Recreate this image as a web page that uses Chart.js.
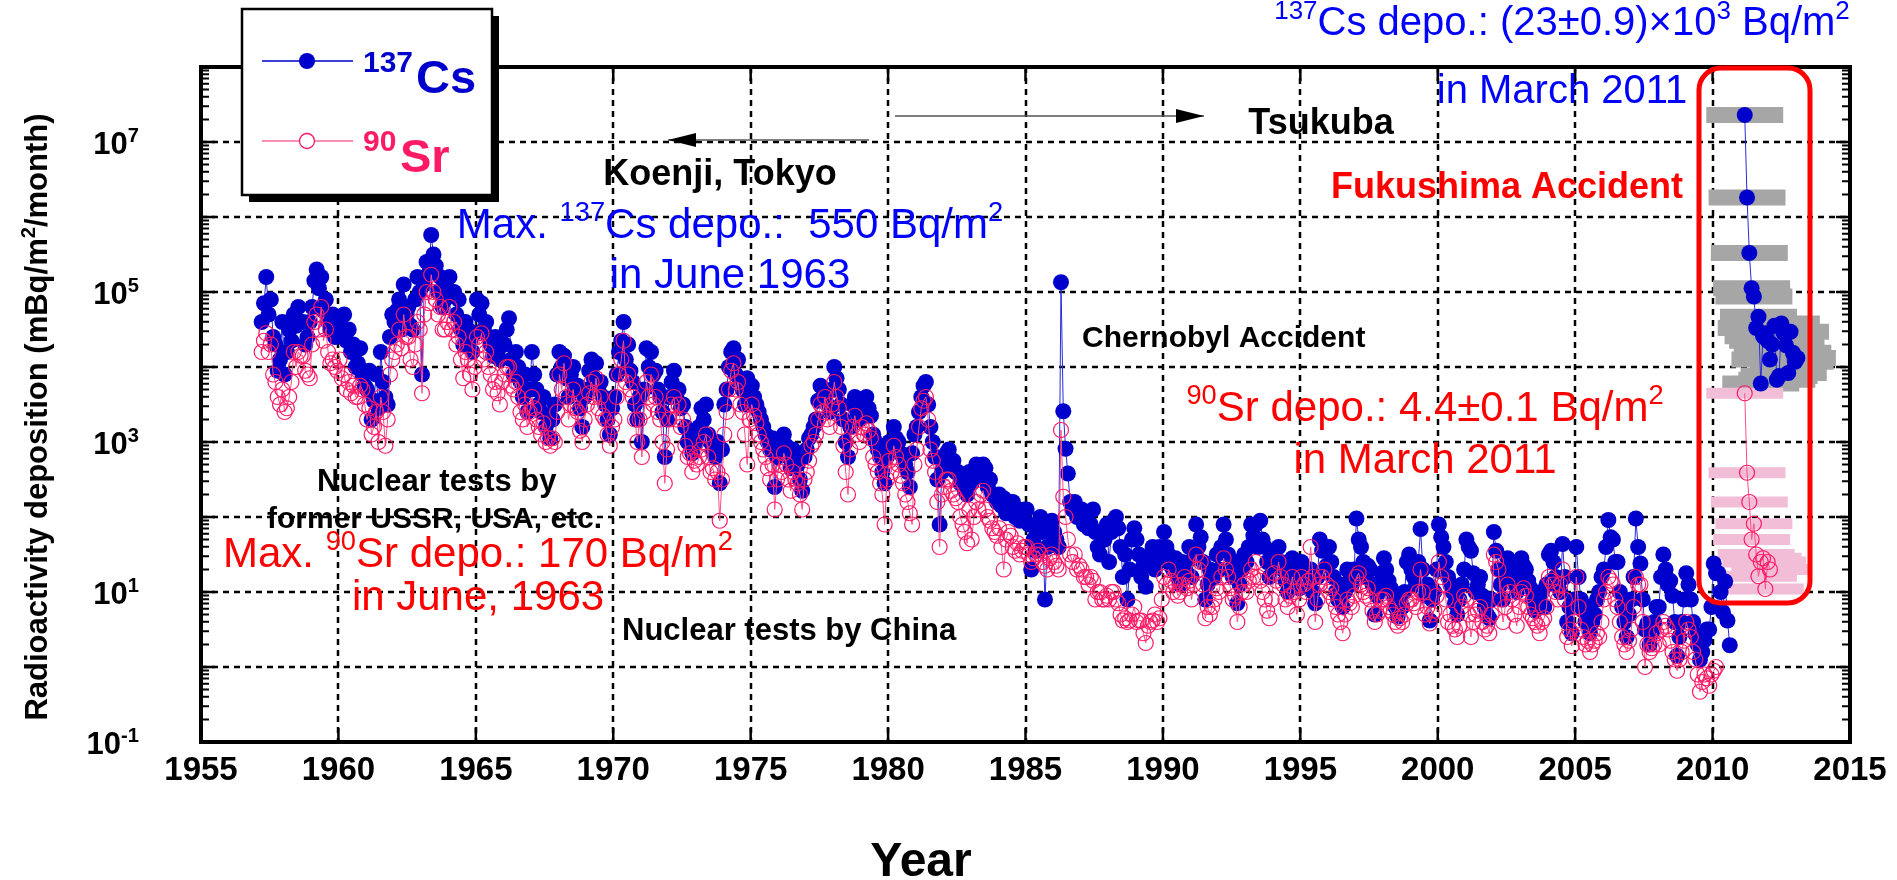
<!DOCTYPE html>
<html>
<head>
<meta charset="utf-8">
<script src="https://cdn.jsdelivr.net/npm/chart.js@4.4.1/dist/chart.umd.min.js"></script>
<style>
html, body { margin: 0; padding: 0; background: #fff; }
#chart { display: block; }
</style>
</head>
<body>
<canvas id="chart" width="1897" height="880"></canvas>
<script>
// Monthly deposition, as log10(mBq/m2/month), Jan..Dec each row.
const firstYear = 1957;
const csLog = [
  null, null, 4.6, 4.85, 5.2, 4.7, 4.9, 4.4, 4.3, 3.95, 4.1, 4.6,      // 1957
  3.9, 4.2, 4.5, 4.35, 4.7, 4.55, 4.8, 4.6, 4.6, 4.3, 4.4, 4.6,        // 1958
  4.8, 5.15, 5.3, 5.05, 5.2, 4.75, 4.9, 4.6, 4.5, 4.7, 4.4, 4.55,      // 1959
  4.6, 4.45, 4.7, 4.35, 4.5, 4.2, 4.3, 4.0, 4.05, 4.25, 3.9, 3.75,     // 1960
  3.7, 3.95, 3.3, 3.55, 3.9, 3.45, 4.2, 3.8, 3.6, 3.5, 4.4, 4.7,       // 1961
  4.6, 4.75, 4.9, 4.5, 5.1, 4.7, 4.8, 4.55, 4.5, 4.9, 5.2, 5.0,        // 1962
  3.9, 5.1, 5.4, 5.25, 5.76, 5.5, 5.35, 5.0, 5.2, 4.8, 4.9, 5.05,      // 1963
  5.2, 4.95, 5.0, 4.7, 4.9, 4.5, 4.3, 4.6, 4.5, 4.35, 4.2, 4.45,       // 1964
  4.9, 4.7, 4.85, 4.5, 4.6, 4.4, 4.3, 4.15, 4.4, 4.2, 4.1, 4.3,        // 1965
  4.3, 4.5, 4.65, 4.1, 3.9, 4.2, 4.0, 3.8, 3.6, 3.9, 3.4, 3.7,         // 1966
  4.2, 3.9, 3.7, 3.5, 3.4, 3.6, 3.2, 3.35, 3.05, 3.3, 3.5, 3.9,        // 1967
  4.2, 4.0, 4.15, 3.85, 3.6, 3.9, 4.0, 3.7, 3.75, 3.45, 3.2, 3.6,      // 1968
  3.7, 3.95, 4.1, 3.85, 4.05, 3.7, 3.8, 3.6, 3.5, 3.3, 3.1, 3.45,      // 1969
  3.6, 3.9, 4.2, 4.35, 4.6, 4.1, 4.3, 3.95, 3.8, 3.5, 3.3, 3.6,        // 1970
  3.0, 3.7, 4.25, 4.0, 4.2, 3.9, 3.95, 3.7, 3.6, 3.4, 2.8, 3.3,        // 1971
  3.6, 3.8, 3.95, 3.6, 3.7, 3.45, 3.5, 3.2, 3.0, 3.1, 2.85, 3.05,      // 1972
  3.0, 3.2, 3.45, 3.3, 3.5, 3.1, 3.0, 2.9, 2.8, 3.0, 2.45, 2.9,        // 1973
  3.5, 3.7, 4.0, 4.2, 4.25, 3.9, 4.1, 3.8, 3.7, 3.5, 3.85, 3.6,        // 1974
  3.75, 3.6, 3.5, 3.4, 3.3, 3.2, 3.1, 3.0, 2.9, 3.05, 2.4, 2.8,        // 1975
  3.0, 2.85, 3.1, 2.95, 2.8, 2.65, 2.9, 2.75, 2.7, 2.5, 2.35, 2.8,     // 1976
  2.9, 3.05, 3.1, 3.2, 3.3, 3.55, 3.75, 3.6, 3.65, 3.5, 3.4, 3.7,      // 1977
  4.0, 3.85, 3.7, 3.5, 3.3, 3.0, 2.8, 3.2, 3.5, 3.6, 3.4, 3.3,         // 1978
  3.5, 3.4, 3.6, 3.45, 3.35, 3.1, 3.0, 2.9, 2.8, 2.6, 2.45, 2.8,       // 1979
  3.0, 2.9, 3.2, 3.05, 3.0, 2.85, 2.8, 2.7, 2.6, 2.4, 2.85, 3.1,       // 1980
  3.2, 3.4, 3.6, 3.75, 3.8, 3.5, 3.2, 3.0, 2.8, 2.5, 1.9, 2.6,         // 1981
  2.7, 2.85, 2.9, 2.7, 2.75, 2.6, 2.6, 2.45, 2.5, 2.35, 2.3, 2.6,      // 1982
  2.45, 2.6, 2.7, 2.55, 2.6, 2.7, 2.65, 2.4, 2.5, 2.3, 2.3, 2.2,       // 1983
  2.3, 2.15, 2.25, 2.05, 2.1, 2.2, 2.2, 2.0, 2.1, 1.95, 2.0, 2.1,      // 1984
  2.1, 1.9, 1.3, 1.7, 1.55, 1.85, 2.0, 1.8, 0.9, 1.6, 1.8, 1.95,       // 1985
  1.8, 1.7, 1.6, 5.13, 3.41, 2.91, 2.58, 2.2, 2.1, 2.2, 2.0, 2.1,      // 1986
  2.1, 1.9, 2.0, 1.85, 1.9, 2.1, 1.8, 1.6, 1.5, 1.75, 1.7, 1.9,        // 1987
  1.4, 1.8, 1.95, 2.0, 1.85, 1.6, 1.2, 1.5, 0.9, 1.3, 1.7, 1.85,       // 1988
  1.7, 1.5, 1.2, 1.35, 1.07, 1.4, 1.5, 1.6, 1.3, 1.45, 1.6, 1.5,       // 1989
  1.8, 1.6, 1.5, 1.35, 1.3, 1.45, 1.2, 1.1, 1.4, 1.3, 1.25, 1.6,       // 1990
  1.2, 1.45, 1.9, 1.6, 1.73, 1.4, 0.9, 1.1, 1.3, 1.2, 1.2, 1.5,        // 1991
  1.3, 1.6, 1.9, 1.7, 1.5, 1.3, 1.2, 1.4, 0.85, 1.1, 1.3, 1.5,         // 1992
  1.4, 1.6, 1.9, 1.75, 1.9, 1.6, 1.95, 1.7, 1.6, 1.4, 1.2, 1.5,        // 1993
  1.5, 1.35, 1.6, 1.4, 1.3, 1.15, 1.0, 1.2, 1.45, 1.3, 1.2, 1.05,      // 1994
  1.4, 1.25, 1.1, 1.3, 1.3, 1.0, 0.85, 1.2, 1.7, 1.55, 1.6, 1.35,      // 1995
  1.6, 1.4, 1.2, 1.0, 0.9, 1.1, 0.8, 1.0, 1.3, 1.15, 1.1, 1.3,         // 1996
  1.98, 1.7, 1.6, 1.4, 1.2, 1.35, 1.3, 1.1, 0.7, 0.95, 1.1, 1.25,      // 1997
  1.45, 1.3, 1.15, 1.05, 0.95, 0.8, 0.67, 0.9, 0.8, 1.0, 1.4, 1.5,     // 1998
  1.3, 1.2, 1.1, 1.4, 1.84, 1.3, 0.95, 1.1, 0.62, 0.9, 1.0, 1.3,       // 1999
  1.9, 1.73, 1.6, 1.4, 1.2, 1.1, 1.0, 0.85, 0.7, 0.9, 1.1, 1.3,        // 2000
  1.7, 1.6, 1.55, 1.25, 1.0, 1.1, 1.2, 0.95, 0.8, 0.7, 0.65, 0.9,      // 2001
  1.8, 1.55, 1.3, 1.1, 0.9, 1.2, 1.45, 1.35, 1.25, 1.1, 1.0, 1.2,      // 2002
  1.45, 1.35, 1.3, 1.15, 1.05, 0.9, 0.75, 0.85, 0.9, 1.0, 0.8, 1.1,    // 2003
  1.5, 1.55, 1.4, 1.2, 1.1, 1.0, 1.64, 1.2, 0.6, 0.8, 0.45, 0.9,       // 2004
  1.6, 1.2, 0.9, 0.75, 0.6, 0.8, 0.45, 0.6, 0.7, 0.9, 1.0, 1.2,        // 2005
  1.3, 1.6, 1.96, 1.73, 1.7, 1.4, 1.4, 1.0, 0.8, 0.6, 0.4, 0.7,        // 2006
  0.9, 1.2, 1.98, 1.6, 1.38, 0.9, 0.5, 0.58, 0.3, 0.45, 0.6, 0.8,      // 2007
  0.8, 1.2, 1.5, 1.3, 1.1, 1.15, 0.95, 0.6, 0.15, 0.4, 0.6, 0.9,       // 2008
  1.25, 1.1, 0.9, 0.6, 0.44, 0.3, 0.1, 0.2, 0.36, 0.5, 0.5, 0.8,       // 2009
  1.38, 1.25, 1.25, 1.0, 0.73, 1.14, 0.62, 0.29                        // 2010
];
const srLog = [
  null, null, 4.2, 4.35, 4.45, 4.2, 4.3, 3.9, 3.8, 3.6, 3.5, 3.7,      // 1957
  3.4, 3.45, 3.6, 3.8, 4.2, 4.0, 4.2, 4.15, 4.15, 3.95, 3.9, 3.85,     // 1958
  4.3, 4.6, 4.7, 4.5, 4.8, 4.35, 4.5, 4.2, 4.05, 4.1, 4.0, 3.95,       // 1959
  4.1, 3.85, 3.9, 3.7, 3.8, 3.65, 3.75, 3.6, 3.6, 3.75, 3.7, 3.5,      // 1960
  3.3, 3.45, 3.1, 3.2, 3.4, 3.0, 3.6, 3.4, 2.95, 3.3, 3.9, 4.1,        // 1961
  4.2, 4.3, 4.5, 4.25, 4.7, 4.4, 4.4, 4.1, 4.0, 4.3, 4.6, 4.5,         // 1962
  3.65, 4.7, 5.0, 4.85, 5.23, 5.0, 4.9, 4.7, 4.8, 4.5, 4.5, 4.6,       // 1963
  4.8, 4.5, 4.6, 4.3, 4.4, 4.1, 3.85, 4.2, 4.1, 3.9, 3.7, 4.0,         // 1964
  4.4, 4.3, 4.45, 4.1, 4.2, 4.0, 3.9, 3.7, 3.8, 3.65, 3.5, 3.8,        // 1965
  3.9, 4.0, 4.0, 3.75, 3.7, 3.8, 3.6, 3.4, 3.3, 3.5, 3.2, 3.4,         // 1966
  3.6, 3.45, 3.3, 3.2, 3.1, 3.25, 3.0, 3.05, 2.95, 3.05, 3.0, 3.4,     // 1967
  3.9, 3.7, 4.05, 3.6, 3.3, 3.5, 3.7, 3.45, 3.4, 3.15, 3.0, 3.3,       // 1968
  3.5, 3.65, 3.8, 3.6, 3.85, 3.45, 3.6, 3.35, 3.3, 3.1, 2.95, 3.2,     // 1969
  3.3, 3.6, 3.9, 4.1, 4.35, 3.8, 3.9, 3.7, 3.6, 3.3, 3.0, 3.3,         // 1970
  2.8, 3.4, 3.8, 3.6, 3.9, 3.5, 3.6, 3.4, 3.3, 3.0, 2.45, 2.9,         // 1971
  3.3, 3.5, 3.6, 3.3, 3.5, 3.2, 3.3, 2.95, 2.8, 2.85, 2.6, 2.75,       // 1972
  2.7, 2.8, 2.9, 3.0, 3.1, 2.8, 2.6, 2.65, 2.5, 2.6, 1.95, 2.5,        // 1973
  3.1, 3.4, 3.7, 3.95, 4.05, 3.7, 3.8, 3.5, 3.4, 3.1, 2.7, 3.3,        // 1974
  3.5, 3.35, 3.25, 3.1, 3.0, 2.9, 2.8, 2.65, 2.5, 2.7, 2.1, 2.5,       // 1975
  2.7, 2.6, 2.85, 2.7, 2.5, 2.35, 2.6, 2.5, 2.45, 2.3, 2.1, 2.5,       // 1976
  2.6, 2.75, 2.95, 3.0, 3.1, 3.3, 3.5, 3.4, 3.6, 3.3, 3.2, 3.5,        // 1977
  3.8, 3.6, 3.45, 3.2, 2.95, 2.6, 2.3, 2.9, 3.2, 3.35, 3.1, 3.0,       // 1978
  3.2, 3.1, 3.25, 3.15, 3.05, 2.8, 2.7, 2.6, 2.45, 2.3, 1.9, 2.5,      // 1979
  2.75, 2.6, 2.95, 2.8, 2.7, 2.55, 2.45, 2.3, 2.2, 2.05, 1.9, 2.7,     // 1980
  2.9, 3.2, 3.45, 3.55, 3.6, 3.3, 2.9, 2.75, 2.6, 2.2, 1.6, 2.3,       // 1981
  2.4, 2.5, 2.5, 2.35, 2.3, 2.25, 2.2, 2.0, 1.9, 1.8, 1.65, 2.1,       // 1982
  1.7, 2.0, 2.2, 2.1, 2.3, 2.35, 2.1, 2.0, 1.95, 1.85, 1.8, 1.75,      // 1983
  1.85, 1.6, 1.3, 1.7, 1.8, 1.75, 1.6, 1.55, 1.65, 1.5, 1.55, 1.6,     // 1984
  1.6, 1.5, 1.4, 1.45, 1.5, 1.55, 1.5, 1.4, 1.35, 1.3, 1.45, 1.5,      // 1985
  1.4, 1.35, 1.3, 3.16, 2.27, 2.0, 1.7, 1.5, 1.4, 1.5, 1.3, 1.35,      // 1986
  1.3, 1.2, 1.2, 1.1, 1.2, 1.15, 0.9, 1.0, 1.0, 0.9, 0.9, 0.95,        // 1987
  0.9, 1.0, 1.0, 0.9, 0.85, 0.7, 0.62, 0.65, 0.6, 0.62, 0.7, 0.8,      // 1988
  0.6, 0.62, 0.62, 0.45, 0.32, 0.55, 0.6, 0.62, 0.7, 0.6, 0.65, 0.9,   // 1989
  1.2, 1.1, 1.3, 1.15, 1.0, 1.1, 0.95, 1.0, 1.1, 1.2, 1.05, 1.15,      // 1990
  0.9, 1.1, 1.5, 1.3, 1.4, 1.1, 0.65, 0.8, 0.7, 0.8, 0.9, 1.05,        // 1991
  1.0, 1.2, 1.45, 1.3, 1.2, 1.05, 0.9, 0.95, 0.6, 0.8, 1.0, 1.1,       // 1992
  1.0, 1.15, 1.3, 1.2, 1.4, 1.2, 1.15, 1.0, 0.9, 0.75, 0.65, 0.9,      // 1993
  1.25, 1.15, 1.4, 1.2, 1.1, 0.9, 0.8, 0.95, 1.2, 1.0, 0.7, 0.9,       // 1994
  1.2, 1.1, 1.0, 1.15, 1.6, 1.2, 0.6, 0.9, 1.1, 1.2, 1.3, 1.1,         // 1995
  1.0, 1.05, 0.9, 0.8, 0.7, 0.6, 0.45, 0.7, 0.9, 0.85, 0.8, 0.95,      // 1996
  1.2, 1.25, 1.1, 1.0, 0.95, 1.05, 0.9, 0.75, 0.6, 0.7, 0.75, 0.9,     // 1997
  0.9, 0.95, 0.8, 0.75, 0.7, 0.6, 0.55, 0.65, 0.6, 0.7, 0.85, 0.9,     // 1998
  0.9, 0.85, 0.8, 1.0, 1.3, 1.0, 0.7, 0.8, 0.58, 0.7, 0.75, 0.95,      // 1999
  1.4, 1.2, 1.1, 0.9, 0.6, 0.7, 0.55, 0.5, 0.4, 0.55, 0.8, 0.95,       // 2000
  0.9, 0.7, 0.4, 0.6, 0.7, 0.75, 0.8, 0.6, 0.5, 0.55, 0.45, 0.7,       // 2001
  1.5, 1.4, 1.3, 0.9, 0.6, 0.8, 1.1, 1.0, 0.9, 0.7, 0.55, 0.8,         // 2002
  1.0, 1.05, 0.95, 0.8, 0.7, 0.65, 0.6, 0.55, 0.45, 0.6, 0.65, 0.8,    // 2003
  1.2, 1.15, 1.1, 1.0, 0.9, 1.1, 1.3, 0.9, 0.4, 0.5, 0.28, 0.6,        // 2004
  1.2, 0.8, 0.5, 0.4, 0.3, 0.35, 0.2, 0.3, 0.35, 0.45, 0.4, 0.6,       // 2005
  0.9, 1.0, 1.2, 1.15, 1.1, 0.9, 0.8, 0.6, 0.4, 0.3, 0.2, 0.35,        // 2006
  0.5, 0.8, 1.2, 1.1, 1.1, 0.6, 0.0, 0.3, 0.2, 0.25, 0.3, 0.45,        // 2007
  0.3, 0.5, 0.6, 0.55, 0.5, 0.35, 0.2, 0.1, -0.05, 0.1, 0.2, 0.35,     // 2008
  0.6, 0.5, 0.4, 0.2, 0.1, -0.1, -0.33, -0.2, -0.1, -0.15, -0.25, -0.1,// 2009
  -0.05, 0.0                                                          // 2010
];

// Fukushima period, one reading a month from March 2011
const fukuFirst = 2011.17;
const fukuCsLog = [7.36, 6.26, 5.52, 5.05, 4.94, 4.52, 4.67, 3.78, 4.41, 4.45, 4.35, 4.1,
                   4.3, 4.55, 3.83, 3.88, 4.58, 4.45, 4.29, 3.92, 4.47, 4.19, 4.07, 4.12];
const fukuSrLog = [3.65, 2.59, 2.2, 1.7, 1.91, 1.5, 1.21, 1.4, 1.45, 1.04, 1.4, 1.3];
const fukuSpan = 1.4; // half length (years) of the shaded band behind each reading

const xTicks = [1955, 1960, 1965, 1970, 1975, 1980, 1985, 1990, 1995, 2000, 2005, 2010, 2015];
const yLabelPowers = [-1, 1, 3, 5, 7];
const yMinPow = -1, yMaxPow = 8;

const FAM = '"Liberation Sans", Arial, Helvetica, sans-serif';
const CS_BLUE = '#0000CC', SR_PINK = '#FF1A66';

const toPoints = (arr, start, step) =>
  arr.map((v, i) => ({x: start + i * step, y: v === null ? null : Math.pow(10, v)}));
const csPts = toPoints(csLog, firstYear + 1 / 24, 1 / 12);
const srPts = toPoints(srLog, firstYear + 1 / 24, 1 / 12);
const fukuCsPts = toPoints(fukuCsLog, fukuFirst, 1 / 12);
const fukuSrPts = toPoints(fukuSrLog, fukuFirst, 1 / 12);

function bands(pts) {
  const out = [];
  pts.forEach(p => {
    out.push({x: p.x - fukuSpan, y: p.y}, {x: p.x + fukuSpan, y: p.y}, {x: p.x, y: null});
  });
  return out;
}

function font(size, bold) { return (bold ? 'bold ' : '') + size + 'px ' + FAM; }

// text with superscripts: parts = [[text, isSup], ...]
function rich(ctx, parts, x, y, size, bold, color, align) {
  let w = 0;
  parts.forEach(p => { ctx.font = font(p[1] ? size * 0.65 : size, bold); w += ctx.measureText(p[0]).width; });
  let cx = align === 'center' ? x - w / 2 : (align === 'right' ? x - w : x);
  ctx.fillStyle = color;
  ctx.textAlign = 'left';
  ctx.textBaseline = 'alphabetic';
  parts.forEach(p => {
    ctx.font = font(p[1] ? size * 0.65 : size, bold);
    ctx.fillText(p[0], cx, p[1] ? y - size * 0.4 : y);
    cx += ctx.measureText(p[0]).width;
  });
}

const notes = [
  {parts: [['Max. ', 0], ['137', 1], ['Cs depo.:  550 Bq/m', 0], ['2', 1]], x: 730, y: 238, size: 42, color: '#0000FF'},
  {parts: [['in June 1963', 0]], x: 730, y: 288, size: 42, color: '#0000FF'},
  {parts: [['Max. ', 0], ['90', 1], ['Sr depo.: 170 Bq/m', 0], ['2', 1]], x: 478, y: 567, size: 42, color: '#FF0000'},
  {parts: [['in June, 1963', 0]], x: 478, y: 610, size: 42, color: '#FF0000'},
  {parts: [['90', 1], ['Sr depo.: 4.4\u00B10.1 Bq/m', 0], ['2', 1]], x: 1425, y: 421, size: 42, color: '#FF0000'},
  {parts: [['in March 2011', 0]], x: 1425, y: 473, size: 42, color: '#FF0000'},
  {parts: [['137', 1], ['Cs depo.: (23\u00B10.9)\u00D710', 0], ['3', 1], [' Bq/m', 0], ['2', 1]], x: 1562, y: 35, size: 40, color: '#0000FF'},
  {parts: [['in March 2011', 0]], x: 1562, y: 103, size: 40, color: '#0000FF'},
  {parts: [['Koenji, Tokyo', 0]], x: 720, y: 185, size: 36, bold: true, color: '#000'},
  {parts: [['Tsukuba', 0]], x: 1321, y: 134, size: 36, bold: true, color: '#000'},
  {parts: [['Fukushima Accident', 0]], x: 1331, y: 198, size: 36, bold: true, color: '#FF0000', align: 'left'},
  {parts: [['Chernobyl Accident', 0]], x: 1082, y: 347, size: 30, bold: true, color: '#000', align: 'left'},
  {parts: [['Nuclear tests by', 0]], x: 317, y: 491, size: 31, bold: true, color: '#000', align: 'left'},
  {parts: [['former USSR, USA, etc.', 0]], x: 267, y: 528, size: 30, bold: true, color: '#000', align: 'left'},
  {parts: [['Nuclear tests by China', 0]], x: 622, y: 640, size: 31, bold: true, color: '#000', align: 'left'}
];

function arrow(ctx, x1, x2, y) {
  ctx.strokeStyle = '#555';
  ctx.lineWidth = 1.5;
  ctx.setLineDash([]);
  ctx.beginPath(); ctx.moveTo(x1, y); ctx.lineTo(x2, y); ctx.stroke();
  const d = x2 > x1 ? 1 : -1;
  ctx.fillStyle = '#000';
  ctx.beginPath();
  ctx.moveTo(x2, y);
  ctx.lineTo(x2 - d * 28, y - 7);
  ctx.lineTo(x2 - d * 28, y + 7);
  ctx.closePath();
  ctx.fill();
}

const decor = {
  id: 'decor',
  beforeDatasetsDraw(chart) {
    const {ctx, chartArea: a, scales: {x, y}} = chart;
    ctx.save();
    ctx.strokeStyle = '#000';
    ctx.lineWidth = 2.5;
    ctx.setLineDash([6, 5]);
    xTicks.slice(1, -1).forEach(t => {
      const px = Math.round(x.getPixelForValue(t));
      ctx.beginPath(); ctx.moveTo(px, a.top); ctx.lineTo(px, a.bottom); ctx.stroke();
    });
    for (let p = yMinPow + 1; p < yMaxPow; p++) {
      const py = Math.round(y.getPixelForValue(Math.pow(10, p)));
      ctx.beginPath(); ctx.moveTo(a.left, py); ctx.lineTo(a.right, py); ctx.stroke();
    }
    ctx.restore();
  },
  afterDraw(chart) {
    const {ctx, chartArea: a, scales: {x, y}} = chart;
    ctx.save();
    ctx.setLineDash([]);
    ctx.strokeStyle = '#000';

    // tick marks
    ctx.lineWidth = 2.5;
    xTicks.forEach(t => {
      const px = x.getPixelForValue(t);
      ctx.beginPath();
      ctx.moveTo(px, a.bottom); ctx.lineTo(px, a.bottom - 14);
      ctx.moveTo(px, a.top); ctx.lineTo(px, a.top + 14);
      ctx.stroke();
    });
    for (let p = yMinPow; p < yMaxPow; p++) {
      for (let m = 1; m <= 9; m++) {
        const py = y.getPixelForValue(m * Math.pow(10, p));
        const len = m === 1 ? 14 : 8;
        ctx.lineWidth = m === 1 ? 2.5 : 2;
        ctx.beginPath();
        ctx.moveTo(a.left, py); ctx.lineTo(a.left + len, py);
        ctx.moveTo(a.right, py); ctx.lineTo(a.right - len, py);
        ctx.stroke();
      }
    }

    // frame
    ctx.lineWidth = 4;
    ctx.strokeRect(a.left, a.top, a.right - a.left, a.bottom - a.top);

    // tick labels
    ctx.fillStyle = '#000';
    ctx.font = font(33, true);
    ctx.textAlign = 'center';
    ctx.textBaseline = 'alphabetic';
    xTicks.forEach(t => ctx.fillText(String(t), x.getPixelForValue(t), a.bottom + 38));
    yLabelPowers.forEach(p => {
      const py = y.getPixelForValue(Math.pow(10, p));
      rich(ctx, [['10', 0], [String(p), 1]], a.left - 62, py + 12, 31, true, '#000', 'right');
    });

    // axis titles
    rich(ctx, [['Year', 0]], 921, 876, 48, true, '#000', 'center');
    ctx.save();
    ctx.translate(47, 417);
    ctx.rotate(-Math.PI / 2);
    rich(ctx, [['Radioactivity deposition (mBq/m', 0], ['2', 1], ['/month)', 0]], 0, 0, 31, true, '#000', 'center');
    ctx.restore();

    // arrows
    arrow(ctx, 869, 668, 140);
    arrow(ctx, 895, 1204, 116);

    // notes
    notes.forEach(n => rich(ctx, n.parts, n.x, n.y, n.size, !!n.bold, n.color, n.align || 'center'));

    // Fukushima frame
    ctx.strokeStyle = '#FF0000';
    ctx.lineWidth = 5;
    const bx = 1699, by = 68, bw = 111, bh = 535, r = 22;
    ctx.beginPath();
    ctx.moveTo(bx + r, by);
    ctx.arcTo(bx + bw, by, bx + bw, by + bh, r);
    ctx.arcTo(bx + bw, by + bh, bx, by + bh, r);
    ctx.arcTo(bx, by + bh, bx, by, r);
    ctx.arcTo(bx, by, bx + bw, by, r);
    ctx.closePath();
    ctx.stroke();

    // legend box
    ctx.fillStyle = '#000';
    ctx.fillRect(249, 16, 250, 186);
    ctx.fillStyle = '#fff';
    ctx.fillRect(242, 9, 250, 186);
    ctx.strokeStyle = '#000';
    ctx.lineWidth = 2.5;
    ctx.strokeRect(242, 9, 250, 186);

    ctx.lineWidth = 1.5;
    ctx.strokeStyle = CS_BLUE;
    ctx.beginPath(); ctx.moveTo(262, 61); ctx.lineTo(353, 61); ctx.stroke();
    ctx.fillStyle = CS_BLUE;
    ctx.beginPath(); ctx.arc(307, 61, 8, 0, Math.PI * 2); ctx.fill();
    ctx.strokeStyle = '#FF6699';
    ctx.beginPath(); ctx.moveTo(262, 141); ctx.lineTo(353, 141); ctx.stroke();
    ctx.fillStyle = '#fff';
    ctx.strokeStyle = SR_PINK;
    ctx.lineWidth = 1.3;
    ctx.beginPath(); ctx.arc(307, 141, 7.5, 0, Math.PI * 2); ctx.fill(); ctx.stroke();
    rich(ctx, [['137', 0]], 363, 72, 30, true, CS_BLUE, 'left');
    rich(ctx, [['Cs', 0]], 416, 93, 47, true, CS_BLUE, 'left');
    rich(ctx, [['90', 0]], 363, 151, 30, true, SR_PINK, 'left');
    rich(ctx, [['Sr', 0]], 400, 172, 47, true, SR_PINK, 'left');
    ctx.restore();
  }
};

const csStyle = {
  borderColor: '#2B2BD9', borderWidth: 1,
  pointRadius: 8, pointBackgroundColor: CS_BLUE, pointBorderColor: CS_BLUE, pointBorderWidth: 0,
  order: 1
};
const srStyle = {
  borderColor: '#FF4D88', borderWidth: 1,
  pointRadius: 7.5, pointBackgroundColor: 'rgba(255,255,255,0)', pointBorderColor: SR_PINK, pointBorderWidth: 1.2,
  order: 0
};

new Chart(document.getElementById('chart'), {
  type: 'line',
  data: {
    datasets: [
      Object.assign({label: '90Sr', data: srPts}, srStyle),
      Object.assign({label: '90Sr (2011-)', data: fukuSrPts}, srStyle),
      Object.assign({label: '137Cs', data: csPts}, csStyle),
      Object.assign({label: '137Cs (2011-)', data: fukuCsPts}, csStyle),
      {label: '90Sr band', data: bands(fukuSrPts), borderColor: '#F2BDD6', borderWidth: 11,
       borderCapStyle: 'butt', pointRadius: 0, order: 2},
      {label: '137Cs band', data: bands(fukuCsPts), borderColor: '#A6A6A6', borderWidth: 16,
       borderCapStyle: 'butt', pointRadius: 0, order: 3}
    ]
  },
  options: {
    responsive: false,
    animation: false,
    devicePixelRatio: 1,
    spanGaps: false,
    layout: {padding: {left: 201, right: 47, top: 67, bottom: 138}},
    plugins: {legend: {display: false}, tooltip: {enabled: false}},
    scales: {
      x: {type: 'linear', display: false, min: 1955, max: 2015},
      y: {type: 'logarithmic', display: false, min: Math.pow(10, yMinPow), max: Math.pow(10, yMaxPow)}
    }
  },
  plugins: [decor]
});
</script>
</body>
</html>
